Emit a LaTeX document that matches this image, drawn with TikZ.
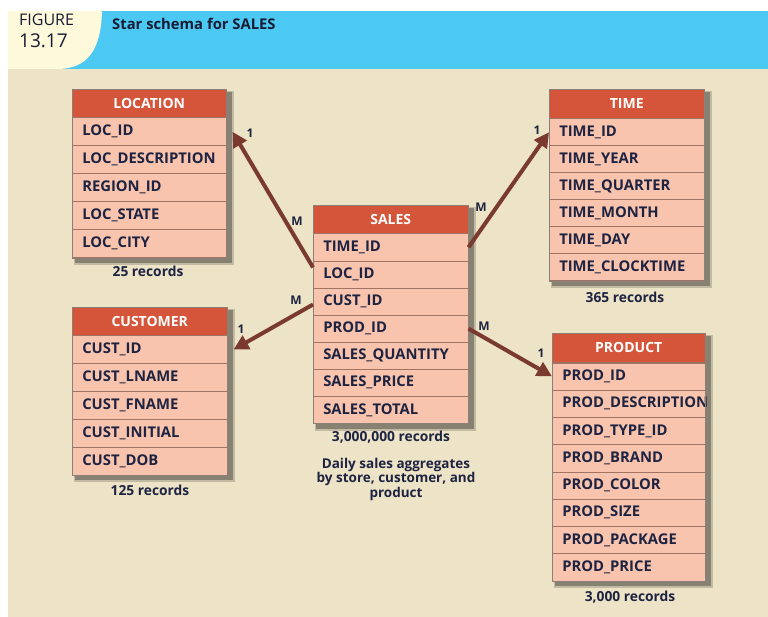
\documentclass[tikz,border=0pt]{standalone}
\usepackage{fontspec}
\setmainfont{Open Sans}
\usetikzlibrary{arrows.meta,calc}
\definecolor{hdr}{HTML}{D5553A}
\definecolor{rowf}{HTML}{F8C4AE}
\definecolor{bgc}{HTML}{EDE3C7}
\definecolor{band}{HTML}{4CC9F2}
\definecolor{figc}{HTML}{FEF9DB}
\definecolor{ink}{HTML}{1D2341}
\definecolor{fkc}{HTML}{7A3A2F}
\definecolor{rowline}{HTML}{A07464}
\definecolor{boxline}{HTML}{8C7F78}
\pgfdeclarelayer{back}
\pgfdeclarelayer{shadow}
\pgfsetlayers{back,shadow,main}
\tikzset{
  hdrbox/.style={fill=hdr, draw=rowline, line width=0.5pt, text=white, inner sep=0pt,
    font=\bfseries\fontsize{14}{14}\selectfont},
  rowbox/.style={fill=rowf, draw=rowline, line width=0.5pt, text=ink, inner ysep=0pt, inner xsep=10pt,
    align=left, font=\bfseries\fontsize{14.8}{15}\selectfont},
  fkline/.style={draw=fkc, line width=4pt, -{Triangle[length=15pt,width=15pt]}},
  card/.style={text=ink, inner sep=1pt, font=\bfseries\fontsize{12}{12}\selectfont},
  rec/.style={text=ink, inner sep=0pt, font=\bfseries\fontsize{13.8}{14}\selectfont},
}
\newcommand\dbtab[8]{%
  \node[hdrbox, minimum width=#4pt, minimum height=#5pt, anchor=north west] (#1-h) at (#2,#3) {#7};
  \pgfmathsetmacro\tabtw{#4-20}%
  \foreach \r [count=\i] in {#8} {
    \node[rowbox, text width=\tabtw pt, minimum height=#6pt, anchor=north west] (#1-\i)
      at ($(#1-h.south west)+(0,{(\i-1)*#6})$) {\r};
    \xdef\tablast{#1-\i}
  }
  \begin{pgfonlayer}{shadow}
    \fill[black,opacity=0.18] ($(#1-h.north west)+(2,2)$) rectangle ($(\tablast.south east)+(7,7)$);
    \fill[black,opacity=0.30] ($(#1-h.north west)+(3,3)$) rectangle ($(\tablast.south east)+(5,5)$);
  \end{pgfonlayer}
  \draw[boxline, line width=0.8pt] (#1-h.north west) rectangle (\tablast.south east);
}
\begin{document}
\begin{tikzpicture}[x=1pt,y=-1pt]
\useasboundingbox (0,0) rectangle (768,617);
\begin{pgfonlayer}{back}
  \fill[white] (0,0) rectangle (768,617);
  \fill[bgc] (8,69) rectangle (768,617);
  \fill[band] (8,11) rectangle (768,69);
  \fill[figc] (8,11) -- (102,11) .. controls (101,52) and (86,69) .. (57,69) -- (8,69) -- cycle;
\end{pgfonlayer}
\node[anchor=west, inner sep=0pt, text=ink!80!black, font=\fontsize{16}{16}\selectfont] (figlab) at (19,20) {FIGURE};
\node[anchor=west, inner sep=0pt, text=ink!80!black, font=\fontsize{19}{19}\selectfont] (fignum) at (19,41) {13.17};
\node[anchor=west, inner sep=0pt, text=ink!80!black, font=\bfseries\fontsize{14.8}{15}\selectfont] (title) at (112,24) {Star schema for SALES};

\dbtab{loc}{72}{89}{154}{28}{28}{LOCATION}{LOC\_ID,LOC\_DESCRIPTION,REGION\_ID,LOC\_STATE,LOC\_CITY}
\dbtab{tim}{549}{89}{155}{29}{27}{TIME}{TIME\_ID,TIME\_YEAR,TIME\_QUARTER,TIME\_MONTH,TIME\_DAY,TIME\_CLOCKTIME}
\dbtab{sal}{313}{205}{155}{28}{27.1}{SALES}{TIME\_ID,LOC\_ID,CUST\_ID,PROD\_ID,SALES\_QUANTITY,SALES\_PRICE,SALES\_TOTAL}
\dbtab{cus}{72}{307}{155}{28}{27.8}{CUSTOMER}{CUST\_ID,CUST\_LNAME,CUST\_FNAME,CUST\_INITIAL,CUST\_DOB}
\dbtab{pro}{552}{333}{153}{29}{27.25}{PRODUCT}{PROD\_ID,PROD\_DESCRIPTION,PROD\_TYPE\_ID,PROD\_BRAND,PROD\_COLOR,PROD\_SIZE,PROD\_PACKAGE,PROD\_PRICE}

\node[rec] (locrec) at (148,271) {25 records};
\node[rec] (timrec) at (625,297) {365 records};
\node[rec] (salrec) at (391,437) {3,000,000 records};
\node[rec] (cusrec) at (150,490) {125 records};
\node[rec] (prorec) at (630,597) {3,000 records};
\node[rec, align=center, font=\bfseries\fontsize{13.5}{12.8}\selectfont] (note) at (396,479)
  {Daily sales aggregates\\by store, customer, and\\product};

\draw[fkline] ([yshift=7pt]sal-2.west) -- ([xshift=6pt]loc-1.east);
\draw[fkline] (sal-1.east) -- (tim-1.west);
\draw[fkline] ([yshift=-3pt]sal-3.west) -- ([xshift=6pt]cus-1.east);
\draw[fkline] (sal-4.east) -- (pro-1.west);

\node[card] (c1a) at (250,133) {1};
\node[card] (c1b) at (297,221) {M};
\node[card] (c2a) at (537,130) {1};
\node[card] (c2b) at (481,207) {M};
\node[card] (c3a) at (241,329) {1};
\node[card] (c3b) at (296,300) {M};
\node[card] (c4a) at (541,353) {1};
\node[card] (c4b) at (484,326) {M};
\end{tikzpicture}
\end{document}
